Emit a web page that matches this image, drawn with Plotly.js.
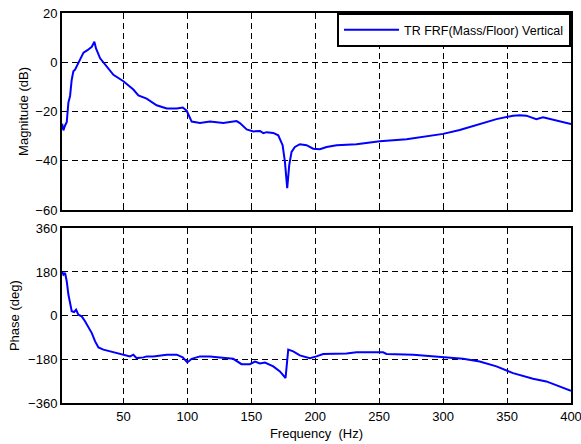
<!DOCTYPE html>
<html><head><meta charset="utf-8">
<script src="https://cdn.plot.ly/plotly-3.0.1.min.js"></script>
<style>html,body{margin:0;padding:0;background:#fff}</style>
</head><body>
<div id="chart" style="width:581px;height:444px"></div>
<script>
const seriesName = "TR FRF(Mass/Floor) Vertical";
const magFreq = [2.1,3.1,4.4,5.7,7,8.3,9.6,10.9,12.2,13.5,16.1,18.8,21.9,25.3,27.3,28.6,31.8,37,42.2,50,57.8,61.7,68.2,76,83.9,91.7,96.4,99.5,103.4,109.9,117.7,128.1,133.3,138.5,141.1,146.4,151.6,156.8,159.4,162,167.2,171.1,174.5,176.3,178.1,179.7,181.5,184.1,188,193.2,198.4,203.6,208.9,216.7,232.3,250.5,271.4,287,300,313,328.6,341.7,354.7,359.9,365.1,372.9,378.1,385.9,393.8,400];
const magDb = [-25,-27.7,-25.7,-24.4,-16.4,-13.7,-7.1,-3.7,-3,-1.7,0.9,3.9,4.9,6.3,8.3,5.6,1.6,-1.7,-5.1,-7.7,-11.1,-13.5,-14.8,-17.5,-18.8,-18.8,-18.4,-19.7,-24.1,-24.7,-24.1,-24.7,-24.4,-23.9,-24.7,-27.3,-28.1,-27.9,-28.8,-28.4,-28.7,-29.7,-33.7,-40.4,-51.1,-41.7,-36.4,-34.4,-33.3,-33.7,-35.1,-35.3,-34.4,-33.7,-33.3,-32.1,-31.3,-30,-29.1,-27.5,-25.1,-23.1,-21.7,-21.5,-21.7,-23.1,-22.4,-23.3,-24.1,-25.1];
const phFreq = [2.1,3.1,4.4,5.7,7,8.3,9.6,11.5,13,14.8,17.4,20,22.7,25.3,27.9,30.5,34.4,39.6,44.8,50,55.2,57.8,60.4,65.6,68.2,73.4,78.6,83.9,91.7,96.4,100,103.4,109.9,117.7,125.5,135.9,142.4,148.9,152.9,156.8,160.7,167.2,172.4,176.8,178.9,182.8,188,195.8,201,206.2,224.5,232.3,253.1,255.7,276.6,292.2,302.6,315.6,328.6,341.7,354.7,370.3,380.7,391.1,400];
const phDeg = [183,169,176,142,87,45,18,15,25,4,-3,-23,-51,-72,-106,-131,-140,-147,-154,-161,-168,-161,-175,-172,-168,-168,-164,-161,-161,-172,-193,-178,-168,-168,-172,-178,-200,-200,-189,-197,-193,-209,-230,-257,-140,-147,-164,-175,-168,-158,-156,-151,-151,-158,-161,-168,-172,-178,-189,-209,-237,-260,-271,-292,-310];
const xTicks = [50,100,150,200,250,300,350,400];
const magTicks = [-60,-40,-20,0,20];
const phTicks = [-360,-180,0,180,360];

const font = {family: "Liberation Sans, Arial, sans-serif", size: 13, color: "#000"};
const legFont = {family: "Liberation Sans, Arial, sans-serif", size: 12.5, color: "#000"};
const axBase = {
  showline: true, mirror: "ticks", linecolor: "#000", linewidth: 2,
  ticks: "inside", ticklen: 4, tickcolor: "#000", tickwidth: 1,
  showgrid: true, gridcolor: "#000", gridwidth: 1, griddash: "6px,4px",
  zeroline: false, tickfont: font, ticklabeloverflow: "allow"
};
const traces = [
  {x: magFreq, y: magDb, type: "scatter", mode: "lines", name: seriesName,
   line: {color: "#0000ff", width: 2}, xaxis: "x", yaxis: "y", showlegend: true},
  {x: phFreq, y: phDeg, type: "scatter", mode: "lines", name: seriesName,
   line: {color: "#0000ff", width: 2}, xaxis: "x2", yaxis: "y2", showlegend: false}
];
const layout = {
  width: 581, height: 444,
  margin: {l: 62, r: 10, t: 13, b: 41},
  paper_bgcolor: "#fff", plot_bgcolor: "#fff",
  font: font,
  showlegend: true,
  legend: {x: 1, xanchor: "right", y: 1, yanchor: "top", bgcolor: "#fff",
           bordercolor: "#000", borderwidth: 2, font: legFont, itemwidth: 55,
           tracegroupgap: 0},
  xaxis: Object.assign({}, axBase, {domain: [0, 1], range: [2, 400], tickvals: xTicks, showticklabels: false, anchor: "y"}),
  yaxis: Object.assign({}, axBase, {domain: [0.495, 1], range: [-60, 20], tickvals: magTicks,
           title: {text: "Magnitude (dB)", font: font, standoff: 4}, anchor: "x"}),
  xaxis2: Object.assign({}, axBase, {domain: [0, 1], range: [2, 400], tickvals: xTicks, anchor: "y2",
           title: {text: "Frequency  (Hz)", font: font, standoff: 6}}),
  yaxis2: Object.assign({}, axBase, {domain: [0, 0.448], range: [-360, 360], tickvals: phTicks,
           title: {text: "Phase (deg)", font: font, standoff: 6}, anchor: "x2"})
};
Plotly.newPlot("chart", traces, layout, {displayModeBar: false, staticPlot: true});
</script>
</body></html>
